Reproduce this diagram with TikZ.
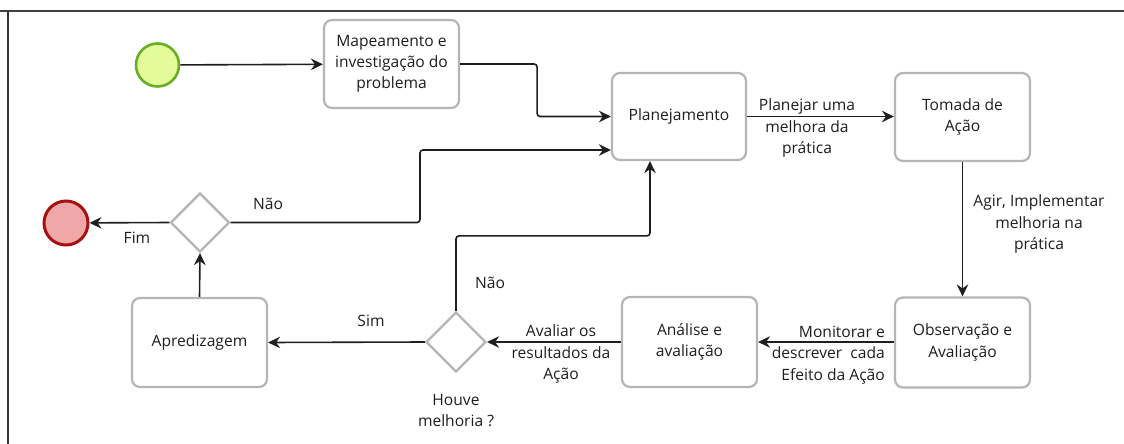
\documentclass[tikz,border=0pt]{standalone}
\usepackage{fontspec}
\setmainfont{Open Sans}
\usetikzlibrary{shapes.geometric,arrows.meta,calc}
\definecolor{boxline}{HTML}{B5B5B5}
\definecolor{startfill}{HTML}{E4FB9C}
\definecolor{startline}{HTML}{68AE25}
\definecolor{endfill}{HTML}{EFA7A7}
\definecolor{endline}{HTML}{A8100F}
\definecolor{txt}{HTML}{1E1E1E}
\begin{document}
\begin{tikzpicture}[x=1pt,y=-1pt,
  font=\fontsize{15.6}{21.3}\selectfont, text=txt,
  task/.style={draw=boxline, line width=2.2pt, fill=white, rounded corners=8pt,
    minimum width=135pt, minimum height=88pt, align=center, inner sep=1pt},
  gate/.style={diamond, draw=boxline, line width=2.2pt, fill=white,
    minimum width=60pt, minimum height=60pt, inner sep=0pt},
  flow/.style={line width=1.6pt, draw=black!88, rounded corners=3pt,
    -{Stealth[length=12pt,width=11.5pt,inset=4pt]}},
  lbl/.style={align=center, inner sep=0pt}]
\useasboundingbox (0,0) rectangle (1124,444);
% frame
\draw[line width=2pt, draw=black!75] (0,11) -- (1124,11);
\draw[line width=1.6pt, draw=black!80] (8,11) -- (8,444);

% events
\node[circle, draw=startline, fill=startfill, line width=2.6pt, minimum size=43pt, inner sep=0pt] (start) at (157.5,65) {};
\node[circle, draw=endline, fill=endfill, line width=3pt, minimum size=44pt, inner sep=0pt] (endc) at (66,223) {};

% tasks
\node[task] (mapa) at (391.5,64) {Mapeamento e\\investigação do\\problema};
\node[task, minimum width=134pt, minimum height=87pt] (plan) at (679,116.5) {Planejamento};
\node[task] (toma) at (962.5,117) {Tomada de\\Ação};
\node[task, minimum height=90pt] (obs) at (962.5,342.5) {Observação e\\Avaliação};
\node[task, minimum height=90pt] (anal) at (689.5,342) {Análise e\\avaliação};
\node[task, minimum height=89pt] (apre) at (199.5,342.5) {Apredizagem};

% gateways
\node[gate] (dec) at (456,342) {};
\node[gate, minimum width=59pt, minimum height=59pt] (fim) at (200,222.5) {};

% sequence flows
\draw[flow] (start) -- (mapa);
\draw[flow] (mapa.east) -- ++(77,0) |- (plan.west);
\draw[flow] (plan.east) -- (plan.east -| toma.west);
\draw[flow] (toma.south) -- (obs.north);
\draw[flow] (obs.west |- anal.east) -- (anal.east);
\draw[flow] (anal.west) -- (dec.east);
\draw[flow] (dec.west) -- (apre.east);
\draw[flow] (dec.north) -- ++(0,-75) -| ($(plan.south)+(-29,0)$);
\draw[flow] (apre.north) -- (fim.south);
\draw[flow] (fim.west) -- (endc);
\draw[flow] (fim.east) -- (420,222.5) |- ($(plan.west)+(0,33.5)$);

% flow labels
\node[lbl] at (807,128) {Planejar uma\\melhora da\\prática};
\node[lbl] at (1039,224) {Agir, Implementar\\melhoria na\\prática};
\node[lbl, align=right, anchor=east] at (885,355) {Monitorar e\\descrever\ \ cada\\Efeito da Ação};
\node[lbl] at (561,354) {Avaliar os\\resultados da\\Ação};
\node[lbl] at (456,410.5) {Houve\\melhoria ?};
\node[lbl] at (371,321) {Sim};
\node[lbl] at (490,283) {Não};
\node[lbl] at (268,204) {Não};
\node[lbl] at (137,238) {Fim};
\end{tikzpicture}
\end{document}
